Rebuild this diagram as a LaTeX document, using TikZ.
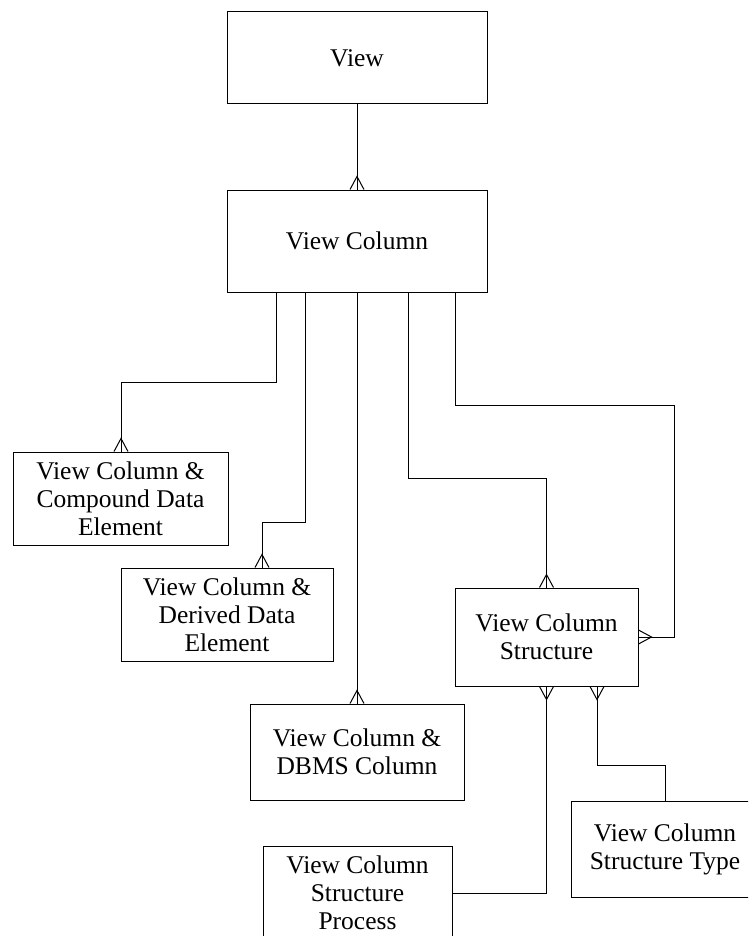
\documentclass[tikz,border=0pt]{standalone}
\usepackage{fontspec}
\setmainfont{Liberation Serif}
\begin{document}
\begin{tikzpicture}[x=1pt,y=-1pt,
  ent/.style={draw, line width=1pt, align=center, inner sep=2pt,
    font=\fontsize{25.5}{28}\selectfont},
  link/.style={line width=1pt},
  % crow's feet (many end) on the top, bottom and right edge of a box
  crowtop/.pic={\draw[link] (-7,0) -- (0,-13) -- (7,0);},
  crowbottom/.pic={\draw[link] (-7,0) -- (0,13) -- (7,0);},
  crowright/.pic={\draw[link] (0,-7) -- (13,0) -- (0,7);}]
\useasboundingbox (0,0) rectangle (748,936);
\clip (0,0) rectangle (748,936);

% entities
\node[ent, minimum width=260pt, minimum height=92pt]  (view)   at (357,58)    {View};
\node[ent, minimum width=260pt, minimum height=102pt] (vcol)   at (357,241)   {View Column};
\node[ent, minimum width=215pt, minimum height=93pt]  (comp)   at (120.5,498.5) {View Column \&\\Compound Data\\Element};
\node[ent, minimum width=212pt, minimum height=93pt]  (der)    at (227,614.5) {View Column \&\\Derived Data\\Element};
\node[ent, minimum width=183pt, minimum height=98pt]  (struct) at (546.5,637) {View Column\\Structure};
\node[ent, minimum width=214pt, minimum height=96pt]  (dbms)   at (357,752)   {View Column \&\\DBMS Column};
\node[ent, minimum width=189pt, minimum height=94pt]  (proc)   at (357.5,893) {View Column\\Structure\\Process};
\node[ent, minimum width=188pt, minimum height=96pt]  (type)   at (665,849)   {View Column\\Structure Type};

% relationships
\draw[link] (view.south) -- (vcol.north);
\pic at (vcol.north) {crowtop};

\draw[link] (276,0 |- vcol.south) |- (121,382) -- (121,0 |- comp.north);
\pic at (121,0 |- comp.north) {crowtop};

\draw[link] (305,0 |- vcol.south) |- (262,522) -- (262,0 |- der.north);
\pic at (262,0 |- der.north) {crowtop};

\draw[link] (vcol.south) -- (dbms.north);
\pic at (dbms.north) {crowtop};

\draw[link] (408,0 |- vcol.south) |- (struct.north |- 0,478) -- (struct.north);
\pic at (struct.north) {crowtop};

\draw[link] (455,0 |- vcol.south) |- (674,405) |- (struct.east);
\pic at (struct.east) {crowright};

\draw[link] (struct.south) |- (proc.east);
\pic at (struct.south) {crowbottom};

\draw[link] (597,0 |- struct.south) |- (type.north |- 0,765) -- (type.north);
\pic at (597,0 |- struct.south) {crowbottom};
\end{tikzpicture}
\end{document}
